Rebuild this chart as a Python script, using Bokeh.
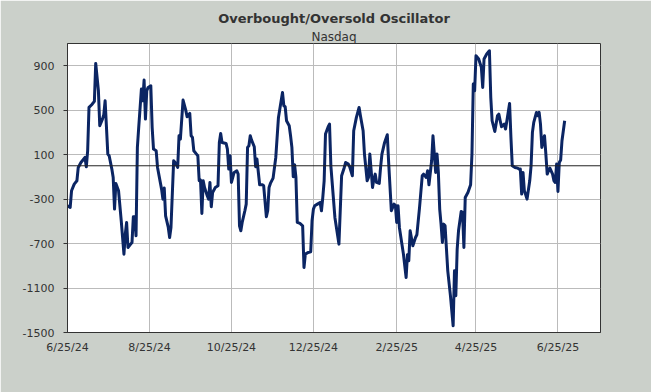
import pandas as pd
from bokeh.plotting import figure
from bokeh.models import (FixedTicker, DatetimeTickFormatter, Span, Title, Range1d,
                          ColumnDataSource)
from bokeh.embed import file_html
from bokeh.resources import INLINE

title_text = "Overbought/Oversold Oscillator"
subtitle_text = "Nasdaq"

dates = [
    "2024-06-25", "2024-06-27", "2024-06-28", "2024-06-30", "2024-07-02", "2024-07-03", "2024-07-05",
    "2024-07-08", "2024-07-09", "2024-07-10", "2024-07-11", "2024-07-13", "2024-07-15", "2024-07-16",
    "2024-07-18", "2024-07-19", "2024-07-21", "2024-07-22", "2024-07-23", "2024-07-24", "2024-07-25",
    "2024-07-26", "2024-07-28", "2024-07-29", "2024-07-30", "2024-07-31", "2024-08-02", "2024-08-04",
    "2024-08-06", "2024-08-07", "2024-08-08", "2024-08-09", "2024-08-11", "2024-08-12", "2024-08-13",
    "2024-08-14", "2024-08-15", "2024-08-16", "2024-08-17", "2024-08-19", "2024-08-20", "2024-08-21",
    "2024-08-22", "2024-08-23", "2024-08-24", "2024-08-26", "2024-08-27", "2024-08-28", "2024-08-30",
    "2024-08-31", "2024-09-03", "2024-09-04", "2024-09-05", "2024-09-06", "2024-09-08", "2024-09-09",
    "2024-09-10", "2024-09-12", "2024-09-13", "2024-09-14", "2024-09-15", "2024-09-16", "2024-09-17",
    "2024-09-19", "2024-09-21", "2024-09-22", "2024-09-24", "2024-09-25", "2024-09-26", "2024-09-27",
    "2024-09-29", "2024-09-30", "2024-10-01", "2024-10-02", "2024-10-03", "2024-10-04", "2024-10-05",
    "2024-10-07", "2024-10-08", "2024-10-09", "2024-10-10", "2024-10-11", "2024-10-12", "2024-10-13",
    "2024-10-15", "2024-10-16", "2024-10-17", "2024-10-18", "2024-10-21", "2024-10-22", "2024-10-23",
    "2024-10-24", "2024-10-25", "2024-10-27", "2024-10-29", "2024-10-30", "2024-10-31", "2024-11-01",
    "2024-11-02", "2024-11-04", "2024-11-05", "2024-11-06", "2024-11-07", "2024-11-08", "2024-11-09",
    "2024-11-11", "2024-11-12", "2024-11-13", "2024-11-15", "2024-11-17", "2024-11-18", "2024-11-20",
    "2024-11-21", "2024-11-22", "2024-11-23", "2024-11-25", "2024-11-27", "2024-11-28", "2024-11-29",
    "2024-12-02", "2024-12-03", "2024-12-04", "2024-12-05", "2024-12-07", "2024-12-08", "2024-12-09",
    "2024-12-10", "2024-12-11", "2024-12-12", "2024-12-13", "2024-12-15", "2024-12-17", "2024-12-18",
    "2024-12-19", "2024-12-21", "2024-12-23", "2024-12-24", "2024-12-25", "2024-12-26", "2024-12-28",
    "2024-12-30", "2024-12-31", "2025-01-01", "2025-01-02", "2025-01-03", "2025-01-05", "2025-01-06",
    "2025-01-07", "2025-01-10", "2025-01-13", "2025-01-15", "2025-01-17", "2025-01-18", "2025-01-20",
    "2025-01-21", "2025-01-23", "2025-01-24", "2025-01-26", "2025-01-28", "2025-01-29", "2025-01-31",
    "2025-02-01", "2025-02-03", "2025-02-04", "2025-02-05", "2025-02-07", "2025-02-08", "2025-02-09",
    "2025-02-10", "2025-02-12", "2025-02-13", "2025-02-14", "2025-02-16", "2025-02-18", "2025-02-19",
    "2025-02-21", "2025-02-23", "2025-02-24", "2025-02-25", "2025-02-26", "2025-02-27", "2025-03-02",
    "2025-03-04", "2025-03-05", "2025-03-06", "2025-03-07", "2025-03-09", "2025-03-11", "2025-03-12",
    "2025-03-14", "2025-03-16", "2025-03-17", "2025-03-19", "2025-03-20", "2025-03-21", "2025-03-23",
    "2025-03-24", "2025-03-26", "2025-03-27", "2025-03-28", "2025-03-29", "2025-03-30", "2025-03-31",
    "2025-04-01", "2025-04-02", "2025-04-04", "2025-04-06", "2025-04-08", "2025-04-09", "2025-04-10",
    "2025-04-11", "2025-04-12", "2025-04-14", "2025-04-15", "2025-04-16", "2025-04-17", "2025-04-19",
    "2025-04-21", "2025-04-22", "2025-04-23", "2025-04-24", "2025-04-25", "2025-04-27", "2025-04-29",
    "2025-04-30", "2025-05-01", "2025-05-03", "2025-05-05", "2025-05-06", "2025-05-07", "2025-05-09",
    "2025-05-11", "2025-05-12", "2025-05-13", "2025-05-14", "2025-05-16", "2025-05-17", "2025-05-18",
    "2025-05-20", "2025-05-21", "2025-05-22", "2025-05-24", "2025-05-26", "2025-05-27", "2025-05-28",
    "2025-05-29", "2025-05-30", "2025-05-31", "2025-06-01", "2025-06-02", "2025-06-04", "2025-06-05",
    "2025-06-06", "2025-06-07", "2025-06-09", "2025-06-10", "2025-06-11", "2025-06-12", "2025-06-13",
    "2025-06-14", "2025-06-15", "2025-06-16", "2025-06-17", "2025-06-18", "2025-06-19", "2025-06-21",
    "2025-06-22", "2025-06-23", "2025-06-24", "2025-06-25", "2025-06-26", "2025-06-27", "2025-06-28",
    "2025-06-30",
]

values = [
    -360, -375, -225, -165, -135, -15, 30,
    75, -9, 135, 525, 549, 579, 921,
    675, 360, 420, 459, 585, 345, 105,
    90, -30, -105, -390, -159, -225, -495,
    -795, -615, -510, -735, -705, -690, -459,
    -459, -630, 165, 345, 690, 585, 771,
    420, 675, 705, 720, 345, 150, 135,
    -15, -210, -300, -201, -450, -555, -645,
    -555, 45, 30, 9, -15, 270, 240,
    591, 501, 441, 471, 270, 255, 135,
    105, 90, -135, -129, -429, -135, -195,
    -270, -300, -150, -369, -240, -219, -195,
    -180, 210, 291, 210, 201, 150, -30,
    90, -150, -60, -45, -75, -540, -585,
    -510, -405, -345, 165, 180, 270, 231,
    171, -9, 60, -171, -171, -180, -459,
    -405, -195, -159, -111, 75, 255, 435,
    660, 540, 531, 405, 360, 270, 165,
    -99, 9, -105, -510, -519, -540, -915,
    -795, -780, -774, -495, -390, -360, -345,
    -330, -405, -285, -135, 285, 351, 375,
    0, -465, -705, -90, -15, 30, 15,
    -9, -90, 315, 435, 525, 450, 315,
    105, -135, -105, 105, -195, -120, -75,
    -150, -159, -15, 105, 210, 279, 30,
    -405, -345, -354, -510, -360, -555, -795,
    -1005, -800, -855, -585, -720, -645, -621,
    -375, -90, -75, -105, -45, -171, 45,
    270, -60, 105, -60, -390, -525, -690,
    -525, -540, -945, -1170, -1440, -945, -1170,
    -750, -585, -411, -420, -735, -285, -240,
    -171, 105, 735, 675, 990, 960, 885,
    705, 960, 1005, 1035, 615, 405, 309,
    450, 465, 405, 351, 375, 330, 405,
    561, 255, 0, -15, -21, -30, -30,
    -255, -60, -225, -261, -300, -135, 0,
    300, 390, 480, 450, 480, 375, 165,
    225, 270, 105, -75, -45, -21, -75,
    -135, -150, 15, -231, 30, 51, 225,
    405,
]

x_tick_dates = ["2024-06-25", "2024-08-25", "2024-10-25", "2024-12-25",
                "2025-02-25", "2025-04-25", "2025-06-25"]
y_ticks = [-1500, -1100, -700, -300, 100, 500, 900]

x_start = "2024-06-25"
x_end = "2025-07-26 16:00"
y_start, y_end = -1500, 1100

BG = "#CBD0CA"
TXT = "#333333"
FONT = "DejaVu Sans"

src = ColumnDataSource(dict(x=pd.to_datetime(dates), y=values))

p = figure(width=651, height=392, x_axis_type="datetime",
           output_backend="svg", toolbar_location=None,
           x_range=Range1d(pd.Timestamp(x_start), pd.Timestamp(x_end)),
           y_range=Range1d(y_start, y_end),
           min_border_left=67, min_border_right=51,
           min_border_top=43, min_border_bottom=60)

p.background_fill_color = "white"
p.border_fill_color = BG
p.outline_line_color = "#333333"
p.outline_line_width = 1

xt = [pd.Timestamp(d).value // 10**6 for d in x_tick_dates]
p.xaxis.ticker = FixedTicker(ticks=xt)
fmt = "%-m/%d/%y"
p.xaxis.formatter = DatetimeTickFormatter(
    milliseconds=fmt, seconds=fmt, minsec=fmt, minutes=fmt, hourmin=fmt,
    hours=fmt, days=fmt, months=fmt, years=fmt)
p.yaxis.ticker = FixedTicker(ticks=y_ticks)
p.yaxis.major_label_overrides = {t: str(t) for t in y_ticks}

for ax in (p.xaxis[0], p.yaxis[0]):
    ax.axis_line_color = "#333333"
    ax.axis_line_width = 1
    ax.major_label_text_font = FONT
    ax.major_label_text_font_size = "11px"
    ax.major_label_text_color = TXT
    ax.minor_tick_line_color = None
    ax.major_tick_line_color = "#333333"

p.xaxis.major_tick_out = 0
p.xaxis.major_tick_in = 0
p.xaxis.major_label_standoff = 8
p.yaxis.major_tick_out = 4
p.yaxis.major_tick_in = 0
p.yaxis.major_label_standoff = 9

p.xgrid.ticker = FixedTicker(ticks=xt)
p.ygrid.ticker = FixedTicker(ticks=y_ticks)
p.grid.grid_line_color = "#BBBBBB"
p.grid.grid_line_width = 1

p.add_layout(Span(location=0, dimension="width", line_color="#222222", line_width=1))

p.line("x", "y", source=src, line_color="#0B2563", line_width=3, line_join="round")

p.add_layout(Title(text=subtitle_text, align="center", text_font=FONT,
                   text_font_size="12px", text_font_style="normal",
                   text_color=TXT, standoff=0, offset=0), "above")
p.add_layout(Title(text=title_text, align="center", text_font=FONT,
                   text_font_size="13px", text_font_style="bold",
                   text_color=TXT, standoff=3, offset=0), "above")

open("out.html", "w").write(file_html(p, INLINE))
